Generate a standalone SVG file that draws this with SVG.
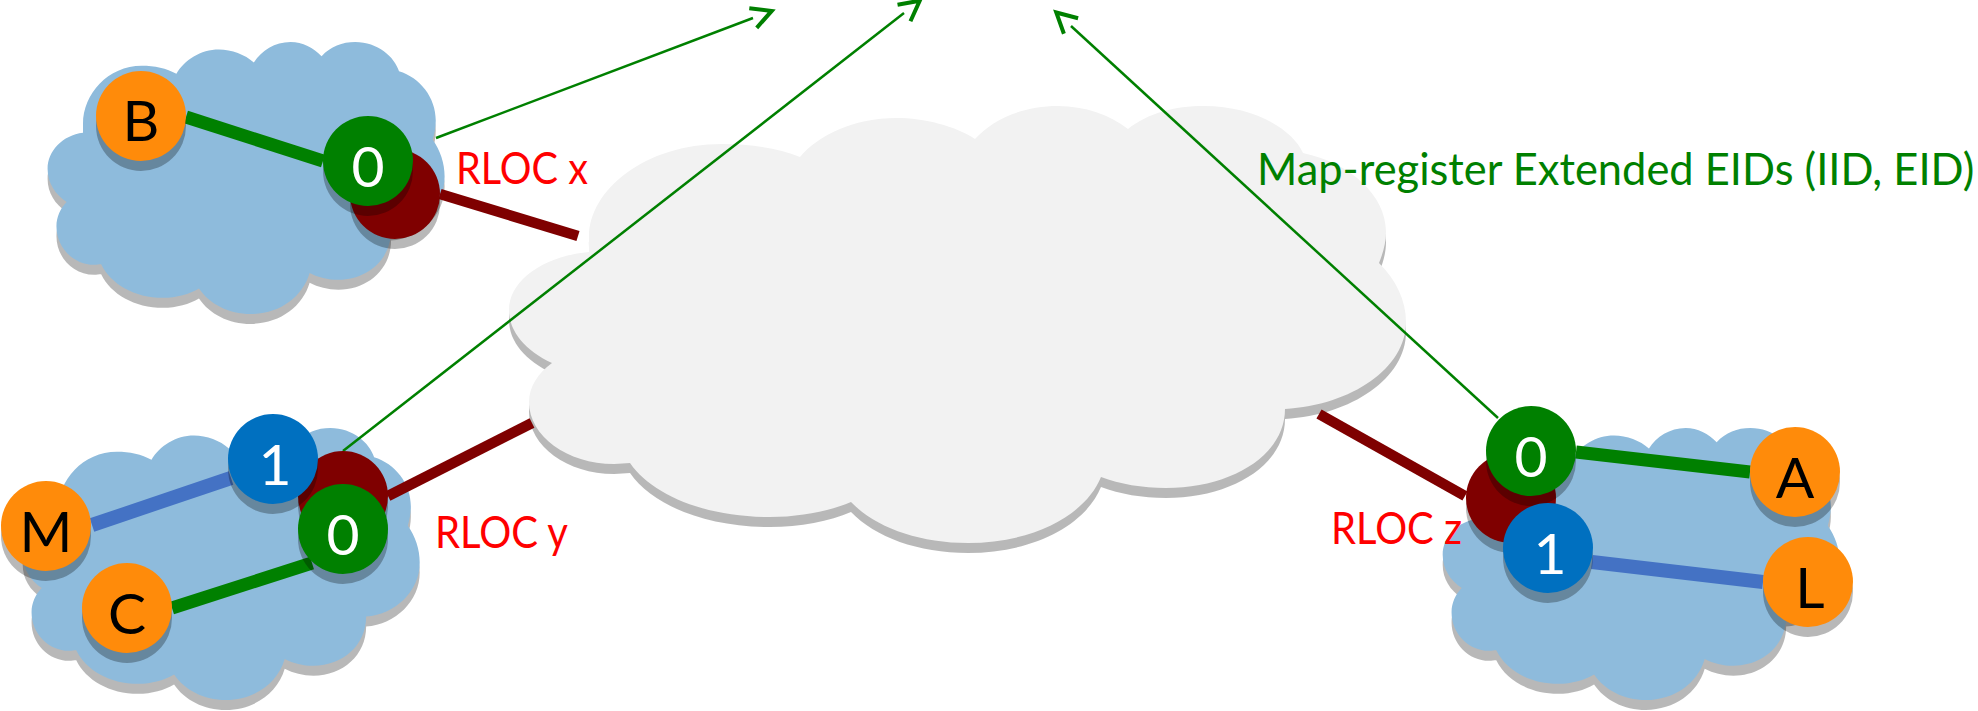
<svg xmlns="http://www.w3.org/2000/svg" width="1978" height="711" viewBox="0 0 1978 711">
<style>
text{font-family:"Lato","Carlito","Open Sans",sans-serif}
.lbl{font-size:45px}
.red{fill:#ff0000}
.grn{fill:#008000}
.n{font-size:57px;text-anchor:middle}
.blk{fill:#000}
.wht{fill:#fff}
.sh{fill:#000;fill-opacity:.28}
.or{fill:#ff8b0a}
.g{fill:#008000}
.b{fill:#0070c0}
.r{fill:#7f0000}
.cb{fill:#8ebbdc}
.cg{fill:#f2f2f2}
.lg{stroke:#008000;stroke-width:13;fill:none}
.lb{stroke:#4472c4;stroke-width:14;fill:none}
.lr{stroke:#7f0000;stroke-width:10.5;fill:none}
.lt{stroke:#008000;stroke-width:2.5;fill:none;marker-end:url(#oa)}
</style>
<defs>
<path id="cloud" d="M589,252 L589,237 C589,190 645,144 722,144 C750,144 778,148 800,157 C818,135 855,118 896,118 C925,118 955,126 975,139 C992,120 1022,106 1058,106 C1085,106 1110,115 1128,129 C1148,113 1175,106 1204,106 C1255,106 1293,130 1303,153 C1350,163 1386,195 1386,232 C1386,243 1383,253 1379,263 C1396,280 1406,300 1406,322 C1406,368 1352,405 1285,409 C1285,455 1232,488 1166,488 C1142,488 1120,484 1101,477 C1085,516 1032,543 968,543 C918,543 875,527 851,502 C830,511 800,517 770,517 C705,517 652,495 630,463 C625,463 620,464 614,464 C567,464 529,436 529,402 C529,387 538,373 552,363 C526,351 509,332 509,310 C509,281 543,256 589,252 Z"/>
<circle id="dot" r="45"/>
<marker id="oa" markerUnits="userSpaceOnUse" markerWidth="30" markerHeight="30" refX="0" refY="0" orient="auto" overflow="visible">
<path d="M0,-10.5 L20,0 L0,10.5" fill="none" stroke="#008000" stroke-width="4"/>
</marker>
</defs>
<g id="cloud-core">
<use href="#cloud" class="sh" y="10"/>
<use href="#cloud" class="cg"/>
</g>
<g id="cloud-x" transform="translate(47.6,42) scale(.4426,.6224) translate(-509,-106)">
<use href="#cloud" class="sh" y="16"/>
<use href="#cloud" class="cb"/>
</g>
<g id="cloud-y" transform="translate(22.7,428) scale(.4426,.6224) translate(-509,-106)">
<use href="#cloud" class="sh" y="16"/>
<use href="#cloud" class="cb"/>
</g>
<g id="cloud-z" transform="translate(1442.7,428) scale(.4426,.6224) translate(-509,-106)">
<use href="#cloud" class="sh" y="16"/>
<use href="#cloud" class="cb"/>
</g>
<g id="connectors">
<line class="lg" x1="186" y1="117" x2="323" y2="161"/>
<line class="lr" x1="440" y1="194" x2="578" y2="236"/>
<line class="lb" x1="92" y1="525" x2="231" y2="478"/>
<line class="lg" x1="172" y1="608" x2="312" y2="563"/>
<line class="lr" x1="388" y1="496" x2="532" y2="423"/>
<line class="lr" x1="1319" y1="414" x2="1465" y2="496"/>
<line class="lg" x1="1576" y1="452" x2="1750" y2="472"/>
<line class="lb" x1="1592" y1="562" x2="1763" y2="582"/>
<line class="lt" x1="436" y1="138" x2="753" y2="18"/>
<line class="lt" x1="343" y1="451" x2="904" y2="13"/>
<line class="lt" x1="1498" y1="418" x2="1071" y2="26"/>
</g>
<g id="rloc-x"><use href="#dot" class="sh" x="395" y="204"/><use href="#dot" class="r" x="395" y="194"/></g>
<g id="iid0-x"><use href="#dot" class="sh" x="368" y="171"/><use href="#dot" class="g" x="368" y="161"/><text class="n wht" x="368" y="187">0</text></g>
<g id="host-b"><use href="#dot" class="sh" x="141" y="126"/><use href="#dot" class="or" x="141" y="116"/><text class="n blk" x="141" y="141">B</text></g>
<g id="rloc-y"><use href="#dot" class="sh" x="343" y="506"/><use href="#dot" class="r" x="343" y="496"/></g>
<g id="iid1-y"><use href="#dot" class="sh" x="273" y="469"/><use href="#dot" class="b" x="273" y="459"/><text class="n wht" x="275" y="485">1</text></g>
<g id="iid0-y"><use href="#dot" class="sh" x="343" y="539"/><use href="#dot" class="g" x="343" y="529"/><text class="n wht" x="343" y="555">0</text></g>
<g id="host-m"><use href="#dot" class="sh" x="46" y="536"/><use href="#dot" class="or" x="46" y="526"/><text class="n blk" x="46" y="552">M</text></g>
<g id="host-c"><use href="#dot" class="sh" x="127" y="618"/><use href="#dot" class="or" x="127" y="608"/><text class="n blk" x="127" y="634">C</text></g>
<g id="rloc-z"><use href="#dot" class="sh" x="1511" y="508"/><use href="#dot" class="r" x="1511" y="498"/></g>
<g id="iid0-z"><use href="#dot" class="sh" x="1531" y="461"/><use href="#dot" class="g" x="1531" y="451"/><text class="n wht" x="1531" y="477">0</text></g>
<g id="iid1-z"><use href="#dot" class="sh" x="1548" y="558"/><use href="#dot" class="b" x="1548" y="548"/><text class="n wht" x="1550" y="574">1</text></g>
<g id="host-a"><use href="#dot" class="sh" x="1795" y="482"/><use href="#dot" class="or" x="1795" y="472"/><text class="n blk" x="1795" y="498">A</text></g>
<g id="host-l"><use href="#dot" class="sh" x="1808" y="592"/><use href="#dot" class="or" x="1808" y="582"/><text class="n blk" x="1810" y="608">L</text></g>
<g id="labels">
<text class="lbl red" x="456" y="184" textLength="132" lengthAdjust="spacingAndGlyphs">RLOC x</text>
<text class="lbl red" x="435" y="548" textLength="133" lengthAdjust="spacingAndGlyphs">RLOC y</text>
<text class="lbl red" x="1331" y="544" textLength="131" lengthAdjust="spacingAndGlyphs">RLOC z</text>
<text class="lbl grn" transform="translate(1257,185) scale(.9,1)" x="0" y="0" textLength="797" lengthAdjust="spacingAndGlyphs">Map-register Extended EIDs (IID, EID)</text>
</g>
</svg>
